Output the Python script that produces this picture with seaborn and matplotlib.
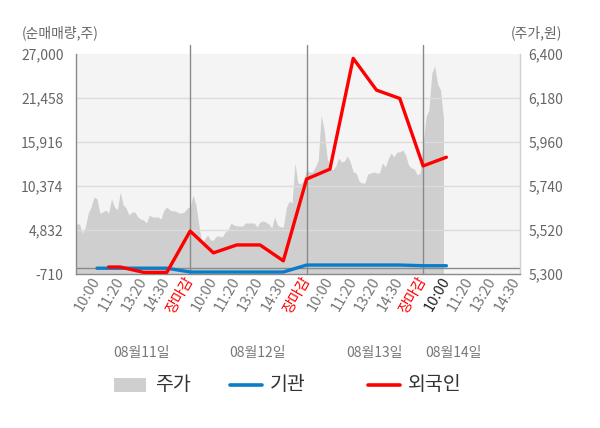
import numpy as np
import pandas as pd
import matplotlib
matplotlib.use("Agg")
import matplotlib.pyplot as plt
import seaborn as sns
from matplotlib.patches import Rectangle
from matplotlib.lines import Line2D

# ---------------- data ----------------
left_ticks = [-710, 4832, 10374, 15916, 21458, 27000]
right_ticks = [5300, 5520, 5740, 5960, 6180, 6400]
day_tick_labels = ["10:00", "11:20", "13:20", "14:30", "장마감"]
last_day_tick_labels = ["10:00", "11:20", "13:20", "14:30"]
date_labels = ["08월11일", "08월12일", "08월13일", "08월14일"]

# price (주가) samples, 40 per trading day (day 4 partial)
day1_price = [5465, 5550, 5550, 5505, 5535, 5605, 5635, 5685, 5675, 5605,
              5610, 5620, 5605, 5675, 5635, 5620, 5710, 5645, 5630, 5595,
              5610, 5610, 5585, 5575, 5570, 5555, 5595, 5585, 5585, 5585,
              5575, 5620, 5635, 5620, 5615, 5615, 5605, 5605, 5610, 5630]
day2_price = [5635, 5695, 5645, 5545, 5455, 5475, 5495, 5470, 5470, 5490,
              5490, 5485, 5510, 5520, 5555, 5545, 5540, 5540, 5540, 5555,
              5555, 5555, 5555, 5535, 5560, 5565, 5560, 5550, 5530, 5585,
              5545, 5535, 5535, 5630, 5665, 5655, 5855, 5755, 5750, 5770]
day3_price = [5820, 5810, 5810, 5835, 5870, 6095, 6020, 5885, 5830, 5820,
              5840, 5880, 5860, 5865, 5890, 5860, 5810, 5805, 5765, 5755,
              5755, 5800, 5805, 5810, 5805, 5805, 5855, 5835, 5875, 5905,
              5885, 5910, 5910, 5920, 5895, 5845, 5830, 5825, 5795, 5805]
day4_price = [5950, 6085, 6120, 6305, 6340, 6250, 6220, 6080]

# net buying (순매매량) at tick slots
foreign_slot = [1.5, 2, 3, 4, 5, 6, 7, 8, 9, 10, 11, 12, 13, 14, 15, 16]
foreign_vals = [170, 170, -500, -500, 4700, 1950, 2950, 2950, 950,
                11250, 12500, 26450, 22450, 21400, 12900, 14000]
inst_slot = [1, 2, 3, 4, 5, 6, 7, 8, 9, 10, 11, 12, 13, 14, 15, 16]
inst_vals = [20, 20, 20, 20, -460, -460, -460, -460, -460,
             420, 420, 420, 420, 420, 330, 330]

# ---------------- build frames ----------------
slots_per_day = 5
samples_per_day = 40
price_frames = []
for d, arr in enumerate([day1_price, day2_price, day3_price, day4_price]):
    pos = d * slots_per_day + np.arange(len(arr)) * slots_per_day / samples_per_day
    price_frames.append(pd.DataFrame({"pos": pos, "price": arr}))
price_df = pd.concat(price_frames, ignore_index=True)
foreign_df = pd.DataFrame({"pos": foreign_slot, "val": foreign_vals})
inst_df = pd.DataFrame({"pos": inst_slot, "val": inst_vals})

# ---------------- style ----------------
sns.set_theme(style="white")
plt.rcParams["font.family"] = ["Noto Sans CJK KR", "DejaVu Sans"]

W, H = 600, 428
fig = plt.figure(figsize=(W / 100, H / 100), dpi=100)
ax_l, ax_r, ax_t, ax_b = 76, 520, 54, 274
ax = fig.add_axes([ax_l / W, 1 - ax_b / H, (ax_r - ax_l) / W, (ax_b - ax_t) / H])
ax2 = ax.twinx()
ax.set_zorder(ax2.get_zorder() + 1)
ax.patch.set_visible(False)
ax2.patch.set_visible(True)
ax2.patch.set_facecolor("#f4f4f4")

xmin, xmax = 0.1, 19.16

# price area on right axis
ax2.fill_between(price_df["pos"], 5300, price_df["price"], color="#cfcfcf", lw=0)
ax2.set_ylim(5300, 6400)
ax2.set_yticks(right_ticks)
ax2.set_yticklabels([f"{v:,}" for v in right_ticks])
ax2.tick_params(axis="y", length=0, pad=6, labelsize=10, labelcolor="#666666")
for s in ax2.spines.values():
    s.set_visible(False)

# main axis (net buying)
ax.set_xlim(xmin, xmax)
ax.set_ylim(-710, 27000)
for v in left_ticks[1:-1]:
    ax.axhline(v, color="#dcdcdc", lw=1, zorder=1)
ax.axhline(0, color="#8a8a8a", lw=1, zorder=2)
for b in [5, 10, 15]:
    ax.axvline(b, ymin=0, ymax=1.04, color="#8a8a8a", lw=1, clip_on=False, zorder=2)

sns.lineplot(data=inst_df, x="pos", y="val", ax=ax, color="#0a7cc8", lw=2.4, zorder=4)
sns.lineplot(data=foreign_df, x="pos", y="val", ax=ax, color="#ff0000", lw=2.4, zorder=5)
ax.set_xlabel("")
ax.set_ylabel("")

ax.set_yticks(left_ticks)
ax.set_yticklabels([f"{v:,}" for v in left_ticks])
ax.tick_params(axis="y", length=0, pad=9, labelsize=10, labelcolor="#666666")

labels = day_tick_labels * 3 + last_day_tick_labels
ax.set_xticks(np.arange(1, len(labels) + 1))
ax.set_xticklabels(labels)
ax.tick_params(axis="x", which="major", length=0, pad=3, labelsize=10.5)
for i, t in enumerate(ax.get_xticklabels()):
    t.set_rotation(60)
    t.set_ha("right")
    t.set_va("center")
    t.set_rotation_mode("anchor")
    if t.get_text() == "장마감":
        t.set_color("#ff0000")
    elif i == 15:
        t.set_color("#222222")
    else:
        t.set_color("#777777")
ax.set_xticks([xmin, 5, 10, 15, xmax], minor=True)
ax.tick_params(axis="x", which="minor", length=4, color="#8a8a8a", width=1)

for name, s in ax.spines.items():
    s.set_linewidth(1)
ax.spines["top"].set_visible(False)
ax.spines["left"].set_color("#8a8a8a")
ax.spines["bottom"].set_color("#8a8a8a")
ax.spines["right"].set_color("#d0d0d0")

# date labels under the ticks
for pos, lab in zip([2.9, 7.9, 12.9, 16.3], date_labels):
    ax.text(pos, -(353 - ax_b) / (ax_b - ax_t), lab, transform=ax.get_xaxis_transform(),
            ha="center", va="center", fontsize=10, color="#777777")

# axis titles
fig.text(22 / W, 1 - 33 / H, "(순매매량,주)", ha="left", va="center", fontsize=10, color="#666666")
fig.text(562 / W, 1 - 33 / H, "(주가,원)", ha="right", va="center", fontsize=10, color="#666666")

# legend (manual)
ly = 1 - 385 / H
fig.patches.append(Rectangle((114 / W, 1 - 392 / H), 32 / W, 14 / H,
                             transform=fig.transFigure, color="#cfcfcf", lw=0))
fig.text(155 / W, ly, "주가", ha="left", va="center", fontsize=14, color="#333333")
fig.lines.append(Line2D([230 / W, 262 / W], [ly, ly], transform=fig.transFigure,
                        color="#0a7cc8", lw=2.6))
fig.text(270 / W, ly, "기관", ha="left", va="center", fontsize=14, color="#333333")
fig.lines.append(Line2D([368 / W, 400 / W], [ly, ly], transform=fig.transFigure,
                        color="#ff0000", lw=2.6))
fig.text(408 / W, ly, "외국인", ha="left", va="center", fontsize=14, color="#333333")

fig.savefig("out.png", dpi=100, facecolor="white")
